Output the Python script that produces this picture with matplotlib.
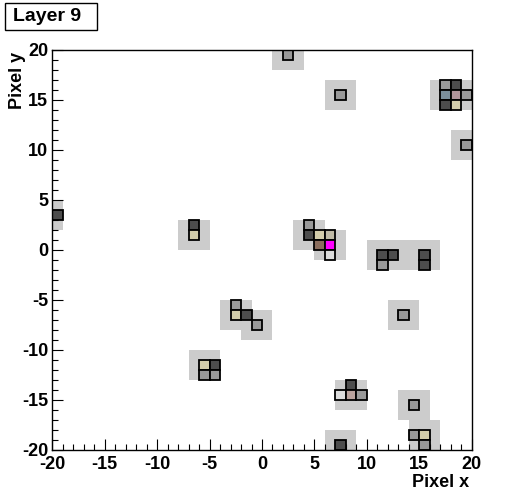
import matplotlib
matplotlib.use("Agg")
import matplotlib.pyplot as plt
from matplotlib.patches import Rectangle
from matplotlib.ticker import MultipleLocator

plt.rcParams['font.family'] = ['Liberation Sans', 'DejaVu Sans']
plt.rcParams['font.weight'] = 'bold'
plt.rcParams['axes.unicode_minus'] = False

# ---- data ----
title = "Layer 9"
x_label = "Pixel x"
y_label = "Pixel y"
x_range = (-20, 20)
y_range = (-20, 20)

# hit pixels (lower-left corner of each 1x1 pixel) and their colour code
cell_x = [2, 7, 17, 18, 17, 18, 19, 17, 18, 19, -20, -7, -7,
          4, 4, 5, 6, 5, 6, 6, 11, 12, 11, 15, 15, 13,
          -3, -3, -2, -1, -6, -5, -6, -5, 8, 7, 8, 9, 14, 14, 15, 15, 7]
cell_y = [19, 15, 16, 16, 15, 15, 15, 14, 14, 10, 3, 2, 1,
          2, 1, 1, 1, 0, 0, -1, -1, -1, -2, -1, -2, -7,
          -6, -7, -7, -8, -12, -12, -13, -13, -14, -15, -15, -15, -16, -19, -19, -20, -20]
cell_code = [1, 1, 1, 0, 4, 5, 1, 0, 2, 1, 0, 0, 2,
             1, 0, 2, 8, 6, 7, 3, 0, 0, 1, 0, 0, 1,
             1, 2, 0, 1, 2, 0, 1, 1, 0, 3, 9, 1, 1, 1, 2, 1, 0]
palette = ['#4d4d4d', '#999999', '#d3cdab', '#dcdcdc', '#7b8f9c',
           '#b1949b', '#8a6d5d', '#ff00ff', '#bfbaa6', '#b9a29d']

# seed pixels: 3x3 region around each is shaded
seed_x = [2, 7, 17, 18, 19, -21, -7, 4, 6, 11, 12, 15, 13, -3, -1, -6, 8, 14, 15, 7]
seed_y = [19, 15, 15, 15, 10, 3, 1, 1, 0, -1, -1, -1, -7, -7, -8, -12, -15, -16, -19, -20]
seed_color = '#cccccc'

# ---- figure ----
fig = plt.figure(figsize=(5.24, 5.0), dpi=100)
ax = fig.add_axes([0.1, 0.1, 0.8, 0.8])
ax.set_xlim(*x_range)
ax.set_ylim(*y_range)

for sx, sy in zip(seed_x, seed_y):
    ax.add_patch(Rectangle((sx - 1, sy - 1), 3, 3, facecolor=seed_color,
                           edgecolor='none', zorder=1, clip_on=True))
for cx, cy, cc in zip(cell_x, cell_y, cell_code):
    ax.add_patch(Rectangle((cx, cy), 1, 1, facecolor=palette[cc],
                           edgecolor='black', linewidth=1.3, zorder=2, clip_on=True))

ax.xaxis.set_major_locator(MultipleLocator(5))
ax.xaxis.set_minor_locator(MultipleLocator(1))
ax.yaxis.set_major_locator(MultipleLocator(5))
ax.yaxis.set_minor_locator(MultipleLocator(1))
ax.tick_params(which='both', direction='in', top=False, right=False, width=0.8,
               labelsize=13, zorder=5)
ax.tick_params(which='major', length=8)
ax.tick_params(which='minor', length=4)
ax.tick_params(axis='x', pad=4)
ax.tick_params(axis='y', pad=3)
for lab in ax.get_xticklabels() + ax.get_yticklabels():
    lab.set_fontweight('bold')
for sp in ax.spines.values():
    sp.set_linewidth(1.0)
    sp.set_zorder(5)

W, H = 524, 500
fig.text(469 / W, 1 - 487 / H, x_label, ha='right', va='baseline',
         fontsize=13, fontweight='bold')
fig.text(17 / W, 1 - 52 / H, y_label, ha='center', va='top', rotation=90,
         fontsize=13, fontweight='bold')

# title box
fig.patches.append(Rectangle((5 / W, 1 - 30 / H), 92 / W, 27 / H,
                             transform=fig.transFigure, facecolor='white',
                             edgecolor='black', linewidth=1.0))
fig.text(13 / W, 1 - 21 / H, title, ha='left', va='baseline',
         fontsize=14, fontweight='bold')

fig.savefig('out.png', dpi=100)
